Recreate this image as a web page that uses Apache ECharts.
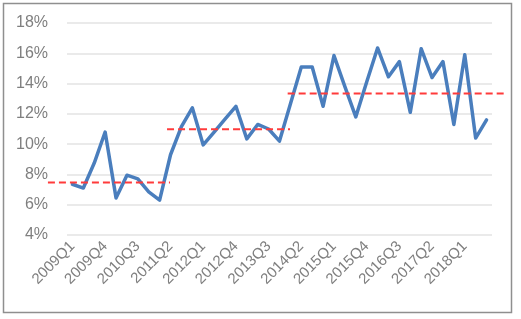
<!DOCTYPE html>
<html>
<head>
<meta charset="utf-8">
<script src="https://cdn.jsdelivr.net/npm/echarts@6/dist/echarts.min.js"></script>
<style>
html,body{margin:0;padding:0;background:#fff;}
#c{width:521px;height:319px;}
</style>
</head>
<body>
<div id="c"></div>
<script>
// Quarters 2009Q1 .. 2018Q3
const years = [2009,2010,2011,2012,2013,2014,2015,2016,2017,2018];
const quarters = [];
years.forEach(y => { for (let q = 1; q <= 4; q++) { if (y === 2018 && q > 3) break; quarters.push(y + 'Q' + q); } });

// Values in percent
const values = [
  7.35, 7.1, 8.75, 10.8, 6.45, 7.95, 7.7, 6.85, 6.3,
  9.3, 11.15, 12.4, 9.95, 10.8, 11.65, 12.5, 10.35, 11.3, 11.0, 10.2,
  12.65, 15.1, 15.1, 12.5, 15.85, 13.8, 11.8, 14.1, 16.35, 14.45,
  15.45, 12.1, 16.3, 14.4, 15.45, 11.3, 15.9, 10.4, 11.6
];

// Period averages (dashed lines): start / end in category-index units, level in percent
const avgStart = [-2.25, 8.68, 19.75];
const avgEnd   = [8.95, 19.96, 39.7];
const avgLevel = [7.47, 10.98, 13.35];

const yTicks = { min: 4, max: 18, interval: 2 };

// layout
const W = 521, H = 319;
const G = { left: 67, right: 29, top: 23, bottom: 84 };
const plotW = W - G.left - G.right;
const step = plotW / quarters.length;
// full-width overlay grid whose value x-axis lines up with the category centres
const ovMin = -G.left / step - 0.5;
const ovMax = (W - G.left) / step - 0.5;

const chart = echarts.init(document.getElementById('c'), null, { renderer: 'canvas' });

const dashedSeries = avgLevel.map((v, i) => ({
  type: 'line',
  xAxisIndex: 1,
  yAxisIndex: 1,
  data: [[avgStart[i], v], [avgEnd[i], v]],
  symbol: 'none',
  silent: true,
  z: 3,
  lineStyle: { color: '#ff3b3b', width: 2, type: [7, 4] }
}));

chart.setOption({
  animation: false,
  backgroundColor: '#ffffff',
  graphic: [{
    type: 'rect',
    shape: { x: 3.5, y: 3.5, width: 508, height: 309 },
    style: { fill: 'none', stroke: '#8f8f8f', lineWidth: 1.5 },
    silent: true
  }],
  grid: [
    { left: G.left, right: G.right, top: G.top, bottom: G.bottom, containLabel: false },
    { left: 0, right: 0, top: G.top, bottom: G.bottom, containLabel: false }
  ],
  xAxis: [{
    type: 'category',
    gridIndex: 0,
    data: quarters,
    boundaryGap: true,
    axisLine: { show: false },
    axisTick: { show: false },
    axisLabel: {
      interval: 2,
      rotate: 45,
      margin: 9,
      color: '#7f7f7f',
      fontFamily: 'Liberation Sans, Arial, sans-serif',
      fontSize: 15
    },
    splitLine: { show: false }
  }, {
    type: 'value',
    gridIndex: 1,
    min: ovMin,
    max: ovMax,
    show: false,
    splitLine: { show: false }
  }],
  yAxis: [{
    type: 'value',
    gridIndex: 0,
    min: yTicks.min,
    max: yTicks.max,
    interval: yTicks.interval,
    axisLine: { show: false },
    axisTick: { show: false },
    axisLabel: {
      formatter: '{value}%',
      color: '#7f7f7f',
      margin: 19,
      fontFamily: 'Liberation Sans, Arial, sans-serif',
      fontSize: 16
    },
    splitLine: { lineStyle: { color: '#e3e3e3', width: 1.5 } }
  }, {
    type: 'value',
    gridIndex: 1,
    min: yTicks.min,
    max: yTicks.max,
    interval: yTicks.interval,
    show: false,
    splitLine: { show: false }
  }],
  series: [{
    type: 'line',
    xAxisIndex: 0,
    yAxisIndex: 0,
    data: values,
    symbol: 'none',
    z: 2,
    lineStyle: { color: '#4a7ebd', width: 3.5, join: 'round', cap: 'round' }
  }].concat(dashedSeries)
});
</script>
</body>
</html>
